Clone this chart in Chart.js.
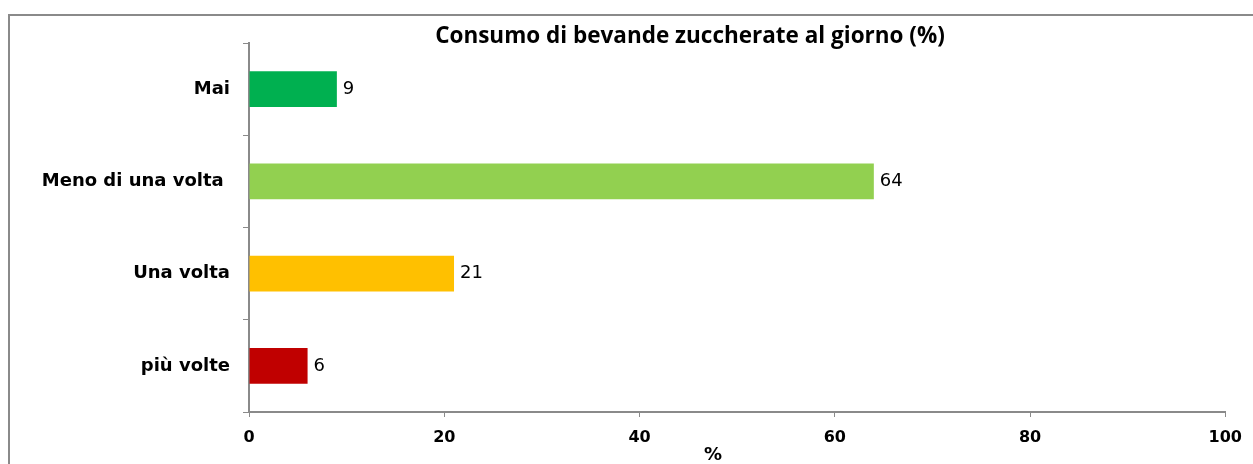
<!DOCTYPE html>
<html>
<head>
<meta charset="utf-8">
<script src="https://cdn.jsdelivr.net/npm/chart.js@4/dist/chart.umd.min.js"></script>
<style>
  html, body { margin: 0; padding: 0; background: #fff; }
  #wrap { width: 1253px; height: 464px; position: relative; }
</style>
</head>
<body>
<div id="wrap"><canvas id="myChart"></canvas></div>
<script>
'use strict';

// DATA
let categories = ['Mai', 'Meno di una volta ', 'Una volta', 'più volte'];
let values = [9, 64, 21, 6];
let barColors = ['#00B050', '#92D050', '#FFC000', '#C00000'];
let xTicks = [0, 20, 40, 60, 80, 100];
let chartTitle = 'Consumo di bevande zuccherate al giorno (%)';
let xTitle = '%';

// border + title + value labels
const extras = {
  id: 'extras',
  beforeDraw(chart) {
    let ctx = chart.ctx;
    ctx.save();
    ctx.strokeStyle = '#8a8a8a';
    ctx.lineWidth = 2;
    ctx.strokeRect(9, 15, 1400, 600);
    ctx.restore();
  },
  afterDatasetsDraw(chart) {
    let ctx = chart.ctx;
    ctx.save();
    ctx.fillStyle = '#000';
    ctx.textBaseline = 'middle';
    ctx.font = '18px "DejaVu Sans"';
    ctx.textAlign = 'left';
    let meta = chart.getDatasetMeta(0);
    meta.data.forEach(function (bar, i) {
      ctx.fillText(String(values[i]), bar.x + 6, bar.y);
    });
    ctx.textAlign = 'center';
    ctx.font = 'bold 22.5px "Open Sans"';
    ctx.fillText(chartTitle, 690, 37);
    ctx.font = 'bold 18px "DejaVu Sans"';
    ctx.fillText(xTitle, 713, 455);
    ctx.restore();
  }
};

const data = {
  labels: categories,
  datasets: [{
    data: values,
    backgroundColor: barColors,
    borderWidth: 0,
    categoryPercentage: 1,
    barPercentage: 0.39
  }]
};

const config = {
  type: 'bar',
  data: data,
  options: {
    indexAxis: 'y',
    responsive: true,
    maintainAspectRatio: false,
    animation: false,
    layout: { padding: { left: 0, right: 26, top: 43, bottom: 0 } },
    plugins: {
      legend: { display: false },
      tooltip: { enabled: false },
      title: { display: false }
    },
    scales: {
      x: {
        min: 0,
        max: 100,
        afterBuildTicks(scale) {
          scale.ticks = xTicks.map(function (v) { return { value: v }; });
        },
        afterFit(scale) { scale.height = 52; },
        grid: {
          drawOnChartArea: false,
          drawTicks: true,
          tickLength: 5,
          color: '#8a8a8a',
          lineWidth: 1
        },
        border: { color: '#8a8a8a', width: 2 },
        ticks: {
          color: '#000',
          padding: 11,
          maxRotation: 0,
          font: { family: 'DejaVu Sans', size: 16, weight: 'bold' }
        }
      },
      y: {
        afterFit(scale) { scale.width = 249; },
        grid: {
          offset: true,
          drawOnChartArea: false,
          drawTicks: true,
          tickLength: 6,
          color: '#8a8a8a',
          lineWidth: 1
        },
        border: { color: '#8a8a8a', width: 2 },
        ticks: {
          color: '#000',
          padding: 13,
          font: { family: 'DejaVu Sans', size: 18, weight: 'bold' }
        }
      }
    }
  },
  plugins: [extras]
};

const myChart = new Chart(document.getElementById('myChart'), config);
</script>
</body>
</html>
